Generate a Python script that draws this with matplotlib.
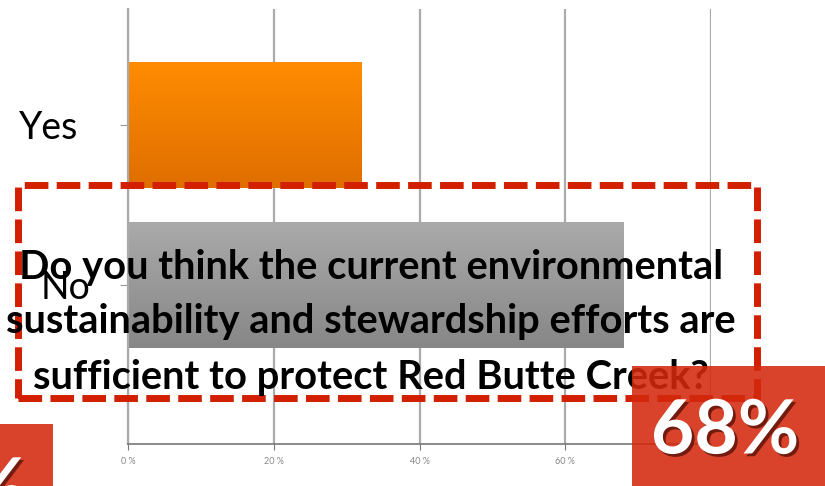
import numpy as np
import matplotlib
matplotlib.use('Agg')
import matplotlib.pyplot as plt
import matplotlib.patheffects as pe
import matplotlib.transforms as mtransforms
from matplotlib.patches import Rectangle
from matplotlib.colors import LinearSegmentedColormap

categories = ['No', 'Yes']
values = [68, 32]
bar_grads = [('#aaaaaa', '#878787'), ('#ff8c00', '#df6e00')]  # (top, bottom)
xticks = [0, 20, 40, 60, 80]
xtick_labels = ['0 %', '20 %', '40 %', '60 %', '']
question = ('Do you think the current environmental\n'
            'sustainability and stewardship efforts are\n'
            'sufficient to protect Red Butte Creek?')
big_label = '68%'
small_label = '32%'

W, H = 825, 486
plt.rcParams['font.family'] = ['Lato', 'DejaVu Sans']

fig = plt.figure(figsize=(W / 100, H / 100), dpi=100)
ax = fig.add_axes([128 / W, 1 - 444 / H, (711 - 128) / W, (444 - 9) / H])

ypos = np.arange(len(categories))
bars = ax.barh(ypos, values, height=0.79, color='none', edgecolor='none', zorder=2)
grad = np.linspace(0, 1, 100).reshape(-1, 1)
for b, (top, bot) in zip(bars, bar_grads):
    cmap = LinearSegmentedColormap.from_list('g', [bot, top])
    x0, y0, w, h = b.get_x(), b.get_y(), b.get_width(), b.get_height()
    im = ax.imshow(grad, cmap=cmap, aspect='auto', origin='lower',
                   extent=[x0, x0 + w, y0, y0 + h], zorder=2)
    im.set_clip_path(b)

ax.set_xlim(0, 80)
ax.set_ylim(-0.994, 1.725)
ax.set_yticks(ypos, categories)
ax.set_xticks(xticks, xtick_labels)
ax.grid(axis='x', color='#ababab', lw=1.6)
ax.set_axisbelow(True)
for s in ['top', 'right']:
    ax.spines[s].set_visible(False)
ax.spines['left'].set_color('#aaaaaa')
ax.spines['left'].set_linewidth(1.6)
ax.spines['bottom'].set_color('#777777')
ax.spines['bottom'].set_linewidth(1.2)
ax.tick_params(axis='y', length=6, color='#999999', pad=30, labelsize=27)
ax.tick_params(axis='x', length=4, color='#777777', pad=5, labelsize=6.5, labelcolor='#888888')

# "No" sits a bit further right in the original
no_lbl = ax.get_yticklabels()[0]
no_lbl.set_transform(no_lbl.get_transform()
                     + mtransforms.ScaledTranslation(12 / 100, 0, fig.dpi_scale_trans))

# dashed callout box with the question
fig.add_artist(Rectangle((18 / W, 1 - 398 / H), (757 - 18) / W, (398 - 185) / H,
                         transform=fig.transFigure, fill=False, ec='#d11f00',
                         lw=5, ls=(0, (3.4, 1.2)), zorder=5))
fig.text(371 / W, 1 - 322 / H, question, ha='center', va='center', fontsize=28.7,
         weight='bold', color='black', linespacing=1.6, zorder=6)

# red highlight boxes
fig.add_artist(Rectangle((632 / W, 0), (825 - 632) / W, (486 - 366) / H,
                         transform=fig.transFigure, fc='#d4290e', ec='none',
                         alpha=0.88, zorder=7))
fig.add_artist(Rectangle((0, 0), 53 / W, (486 - 424) / H,
                         transform=fig.transFigure, fc='#d4290e', ec='none',
                         alpha=0.88, zorder=7))
shadow = [pe.withSimplePatchShadow(offset=(2, -2), shadow_rgbFace='#5a1208', alpha=0.8)]
fig.text(725 / W, 1 - 432 / H, big_label, ha='center', va='center', fontsize=54,
         weight='bold', color='white', path_effects=shadow, zorder=8)
fig.text(27 / W, 1 - 490 / H, small_label, ha='right', va='center', fontsize=54,
         weight='bold', color='white', path_effects=shadow, zorder=8)

fig.savefig('out.png', dpi=100)
